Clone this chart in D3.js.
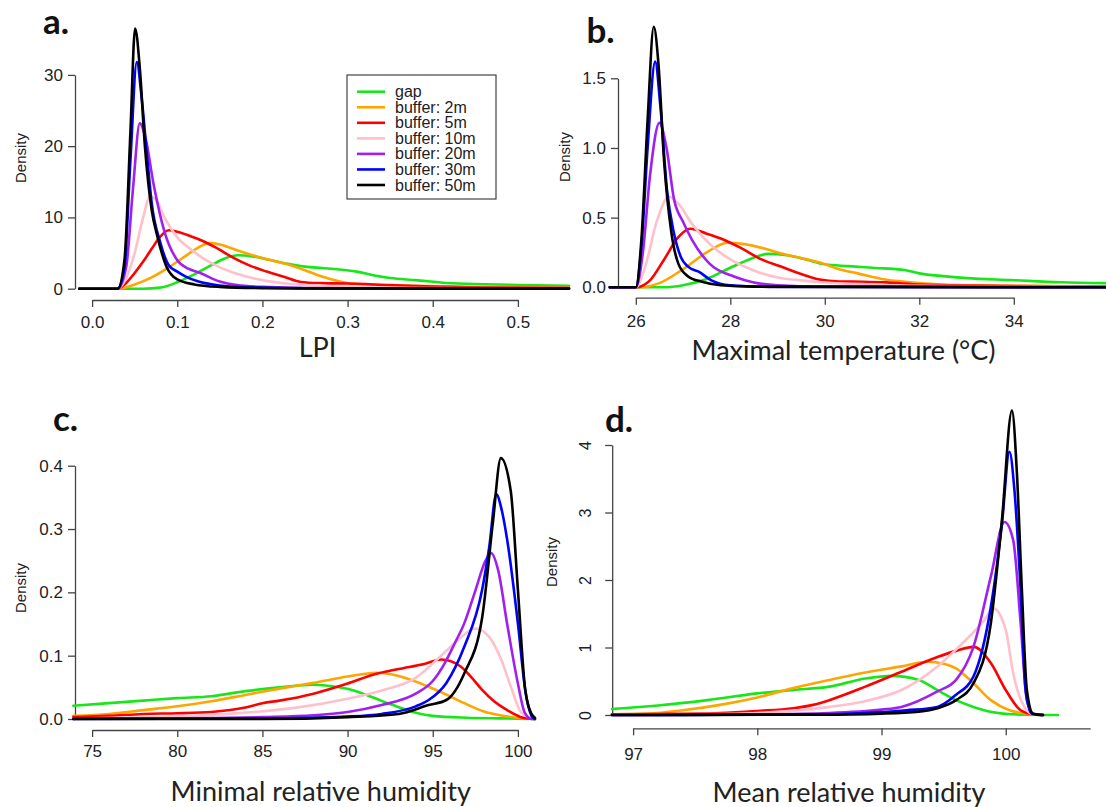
<!DOCTYPE html>
<html><head><meta charset="utf-8">
<script src="https://cdn.jsdelivr.net/npm/d3@7"></script>
<style>html,body{margin:0;padding:0;background:#fff;}svg{display:block;}</style>
</head><body>
<svg id="chart" width="1106" height="807"></svg>
<script>
// ---------- DATA ----------
const seriesNames = ["gap","buffer: 2m","buffer: 5m","buffer: 10m","buffer: 20m","buffer: 30m","buffer: 50m"];
const seriesColors = ["#19e619","#ffa500","#ff0000","#ffc0cb","#a020f0","#0000ff","#000000"];

// panel a: LPI
const lpiXTicks = [0,0.1,0.2,0.3,0.4,0.5];
const lpiYTicks = [0,10,20,30];
const lpiGap = [[-0.015,0],[0.06,0],[0.08,0.15],[0.1,0.9],[0.12,2.0],[0.14,3.3],[0.155,4.2],[0.171,4.7],[0.19,4.5],[0.21,4.0],[0.23,3.5],[0.25,3.1],[0.27,2.9],[0.29,2.7],[0.311,2.4],[0.33,1.9],[0.35,1.5],[0.38,1.2],[0.416,0.8],[0.46,0.62],[0.5,0.52],[0.56,0.42]];
const lpiB2 = [[-0.015,0],[0.03,0],[0.05,0.6],[0.07,1.6],[0.09,3.0],[0.11,4.6],[0.125,5.8],[0.138,6.4],[0.15,6.2],[0.17,5.4],[0.2,4.3],[0.227,3.5],[0.25,2.6],[0.27,1.7],[0.3,0.8],[0.33,0.55],[0.37,0.42],[0.42,0.33],[0.5,0.2],[0.56,0.15]];
const lpiB5 = [[-0.015,0],[0.03,0],[0.04,0.8],[0.05,2.2],[0.06,3.8],[0.07,5.6],[0.08,7.3],[0.09,8.2],[0.1,8.0],[0.115,7.4],[0.13,6.7],[0.145,5.8],[0.165,4.4],[0.186,3.2],[0.205,2.4],[0.227,1.6],[0.245,0.95],[0.27,0.78],[0.3,0.72],[0.35,0.5],[0.4,0.3],[0.5,0.12],[0.56,0.08]];
const lpiB10 = [[-0.015,0],[0.03,0],[0.04,1.5],[0.05,5],[0.06,10],[0.068,12.9],[0.075,12.5],[0.085,10],[0.1,7.2],[0.115,5.6],[0.13,4.3],[0.15,3.0],[0.17,2.1],[0.2,1.2],[0.23,0.7],[0.27,0.4],[0.32,0.2],[0.4,0.1],[0.56,0.05]];
const lpiB20 = [[-0.015,0],[0.03,0],[0.04,3],[0.048,14],[0.056,23.2],[0.063,21],[0.072,14.8],[0.0855,7.8],[0.1,4.0],[0.113,2.8],[0.127,2.2],[0.15,1.0],[0.17,0.5],[0.2,0.25],[0.25,0.1],[0.3,0.05],[0.56,0.01]];
const lpiB30 = [[-0.015,0],[0.03,0],[0.038,3],[0.045,18],[0.0525,31.8],[0.058,27],[0.065,18],[0.07,12],[0.08,6.5],[0.09,3.3],[0.1,2.4],[0.11,1.7],[0.125,1.0],[0.15,0.45],[0.18,0.2],[0.25,0.05],[0.56,0.01]];
const lpiB50 = [[-0.015,0],[0.03,0],[0.038,4],[0.045,22],[0.0505,36.5],[0.056,31],[0.062,20],[0.07,11],[0.0763,7.5],[0.087,3.2],[0.1,1.3],[0.12,0.6],[0.15,0.25],[0.2,0.08],[0.3,0.02],[0.56,0.01]];

// panel b: maximal temperature
const tmaxXTicks = [26,28,30,32,34];
const tmaxYTicks = [0,0.5,1,1.5];
const tmaxGap = [[25.45,0],[26.6,0],[27.0,0.015],[27.5,0.06],[28.0,0.14],[28.4,0.2],[28.8,0.24],[29.2,0.23],[29.6,0.2],[30.0,0.165],[30.5,0.152],[31.0,0.14],[31.69,0.124],[32.0,0.1],[32.5,0.08],[33.0,0.066],[33.94,0.052],[35,0.036],[36,0.03]];
const tmaxB2 = [[25.45,0],[26.1,0],[26.5,0.03],[27.0,0.13],[27.5,0.25],[27.94,0.32],[28.3,0.31],[28.7,0.28],[29.06,0.244],[29.5,0.21],[29.96,0.17],[30.3,0.13],[30.7,0.1],[31.2,0.06],[31.7,0.04],[32.5,0.02],[34,0.01],[36,0.005]];
const tmaxB5 = [[25.45,0],[26.0,0],[26.3,0.05],[26.6,0.2],[26.9,0.36],[27.15,0.42],[27.5,0.385],[27.8,0.35],[28.0,0.32],[28.24,0.28],[28.6,0.21],[29.14,0.14],[29.5,0.095],[29.89,0.055],[30.3,0.042],[30.8,0.04],[31.3,0.035],[32,0.02],[33,0.012],[36,0.005]];
const tmaxB10 = [[25.45,0],[26.0,0],[26.2,0.15],[26.45,0.48],[26.7,0.65],[26.9,0.6],[27.2,0.45],[27.6,0.3],[28,0.2],[28.5,0.12],[29,0.07],[29.5,0.05],[30,0.035],[31,0.02],[32,0.01],[36,0.002]];
const tmaxB20 = [[25.45,0],[26.0,0],[26.15,0.25],[26.3,0.8],[26.5,1.18],[26.65,1.0],[26.81,0.63],[27.0,0.47],[27.19,0.34],[27.56,0.17],[28.09,0.076],[28.5,0.035],[29,0.015],[30,0.005],[36,0]];
const tmaxB30 = [[25.45,0],[26.0,0],[26.12,0.3],[26.25,1.0],[26.41,1.62],[26.52,1.3],[26.66,0.7],[26.8,0.4],[26.95,0.22],[27.1,0.15],[27.34,0.11],[27.6,0.05],[28,0.015],[29,0.003],[36,0]];
const tmaxB50 = [[25.45,0],[26.0,0],[26.12,0.35],[26.25,1.2],[26.38,1.87],[26.48,1.6],[26.6,0.9],[26.75,0.4],[26.9,0.17],[27.1,0.08],[27.4,0.04],[27.8,0.015],[28.5,0.005],[36,0]];

// panel c: minimal relative humidity
const rhMinXTicks = [75,80,85,90,95,100];
const rhMinYTicks = [0,0.1,0.2,0.3,0.4];
const rhMinGap = [[73.9,0.021],[76,0.025],[78,0.029],[80,0.033],[82,0.036],[84,0.044],[86,0.05],[88,0.054],[89.5,0.05],[90.5,0.044],[91.5,0.034],[92.66,0.022],[94,0.01],[95,0.005],[97,0.002],[99,0.001],[101,0]];
const rhMinB2 = [[73.9,0.005],[76,0.008],[78,0.014],[80,0.02],[82,0.028],[84,0.038],[86,0.048],[88,0.057],[90,0.067],[91.7,0.073],[93,0.068],[94.76,0.051],[96,0.036],[96.85,0.025],[98,0.012],[98.95,0.006],[100,0.002],[101,0]];
const rhMinB5 = [[73.9,0.003],[76,0.005],[78,0.008],[80,0.009],[82,0.011],[84,0.018],[85,0.025],[86,0.029],[88,0.04],[90,0.056],[91.5,0.07],[93,0.079],[94.5,0.087],[95.5,0.094],[96.64,0.083],[97.3,0.065],[97.9,0.046],[98.6,0.028],[99.37,0.014],[100.3,0.002],[101,0]];
const rhMinB10 = [[73.9,0.001],[80,0.004],[84,0.01],[87,0.018],[90,0.032],[92,0.045],[94,0.065],[95.5,0.1],[96.5,0.125],[97.5,0.143],[98.3,0.13],[99,0.095],[99.6,0.05],[100.2,0.01],[101,0]];
const rhMinB20 = [[73.9,0.001],[80,0.001],[85,0.003],[88,0.006],[90,0.011],[92,0.022],[94,0.04],[95,0.06],[95.7,0.088],[96.3,0.12],[96.85,0.151],[97.47,0.2],[98.1,0.25],[98.43,0.262],[98.84,0.235],[99.37,0.15],[100,0.056],[100.4,0.01],[100.8,0],[101,0]];
const rhMinB30 = [[73.9,0],[85,0.001],[90,0.004],[92,0.008],[94,0.02],[94.76,0.03],[95.8,0.057],[96.85,0.114],[97.9,0.204],[98.32,0.272],[98.73,0.355],[99.05,0.33],[99.37,0.283],[100,0.151],[100.43,0.046],[100.8,0.005],[101,0]];
const rhMinB50 = [[73.9,0],[85,0],[90,0.003],[93,0.008],[94.76,0.022],[95.8,0.03],[96.85,0.072],[97.9,0.16],[98.53,0.31],[99.0,0.412],[99.58,0.36],[100,0.204],[100.43,0.046],[100.8,0.008],[101,0.002]];

// panel d: mean relative humidity
const rhMeanXTicks = [97,98,99,100];
const rhMeanYTicks = [0,1,2,3,4];
const rhMeanGap = [[96.83,0.09],[97.2,0.14],[97.6,0.22],[98,0.32],[98.29,0.37],[98.58,0.42],[98.87,0.54],[99.08,0.58],[99.3,0.52],[99.45,0.37],[99.6,0.22],[99.74,0.12],[99.9,0.04],[100.05,0.01],[100.42,0]];
const rhMeanB2 = [[96.83,0.01],[97.12,0.02],[97.4,0.07],[97.7,0.15],[98,0.26],[98.29,0.4],[98.58,0.52],[98.87,0.63],[99.16,0.72],[99.37,0.79],[99.5,0.76],[99.6,0.69],[99.74,0.47],[99.88,0.22],[100.03,0.07],[100.17,0.02],[100.3,0]];
const rhMeanB5 = [[96.83,0.01],[97.2,0.015],[97.7,0.03],[98,0.06],[98.29,0.1],[98.45,0.15],[98.58,0.22],[98.87,0.42],[99.16,0.64],[99.45,0.86],[99.6,0.95],[99.74,1.01],[99.88,0.77],[100,0.37],[100.12,0.07],[100.22,0.01],[100.3,0]];
const rhMeanB10 = [[96.83,0],[97.5,0.01],[98,0.03],[98.58,0.12],[98.9,0.22],[99.16,0.37],[99.45,0.72],[99.65,1.06],[99.83,1.41],[99.9,1.58],[100,1.26],[100.06,0.62],[100.15,0.12],[100.22,0.01],[100.3,0]];
const rhMeanB20 = [[96.83,0],[98,0.01],[98.58,0.03],[99,0.08],[99.16,0.12],[99.45,0.35],[99.6,0.52],[99.74,1.01],[99.88,2.05],[99.99,2.86],[100.06,2.59],[100.12,1.36],[100.17,0.22],[100.22,0.02],[100.3,0]];
const rhMeanB30 = [[96.83,0],[98.5,0.01],[98.87,0.03],[99.2,0.07],[99.45,0.12],[99.6,0.3],[99.74,0.57],[99.88,1.6],[99.97,2.84],[100.03,3.9],[100.07,3.33],[100.12,1.85],[100.16,0.37],[100.21,0.02],[100.3,0]];
const rhMeanB50 = [[96.83,0],[98.5,0.005],[99,0.02],[99.3,0.05],[99.45,0.1],[99.6,0.22],[99.74,0.47],[99.88,1.36],[99.97,2.9],[100.05,4.51],[100.09,3.58],[100.13,1.85],[100.17,0.37],[100.22,0.02],[100.3,0]];

const panelLetters = ["a.","b.","c.","d."];
const axisTitles = ["LPI","Maximal temperature (\u00B0C)","Minimal relative humidity","Mean relative humidity"];
const yTitle = "Density";

// ---------- LAYOUT ----------
const svg = d3.select("#chart");
const TICKFONT = "'Liberation Sans', Arial, sans-serif";
const TITLEFONT = "Lato, 'Open Sans', sans-serif";
const AXIS_COLOR = "#444";

const panels = [
  {series:[lpiGap,lpiB2,lpiB5,lpiB10,lpiB20,lpiB30,lpiB50], xDom:[0,0.5], xRng:[92.1,517.9], yDom:[0,30], yRng:[288.7,74.9],
   xTicks:lpiXTicks, yTicks:lpiYTicks, xFmt:d3.format(".1f"), yFmt:d3.format("d"), xAxisY:300, yAxisX:75,
   letter:[43,34], title:[317.5,356.7], dens:[21,158], rotY:false, xPad:9},
  {series:[tmaxGap,tmaxB2,tmaxB5,tmaxB10,tmaxB20,tmaxB30,tmaxB50], xDom:[26,34], xRng:[635.8,1013.8], yDom:[0,1.5], yRng:[287.3,78.3],
   xTicks:tmaxXTicks, yTicks:tmaxYTicks, xFmt:d3.format("d"), yFmt:d3.format(".1f"), xAxisY:297.7, yAxisX:618,
   letter:[586.5,43.3], title:[843.5,360], dens:[565,157], rotY:false, xPad:10},
  {series:[rhMinGap,rhMinB2,rhMinB5,rhMinB10,rhMinB20,rhMinB30,rhMinB50], xDom:[75,100], xRng:[92.1,517.9], yDom:[0,0.4], yRng:[719,465.7],
   xTicks:rhMinXTicks, yTicks:rhMinYTicks, xFmt:d3.format("d"), yFmt:d3.format(".1f"), xAxisY:730, yAxisX:75,
   letter:[53,431], title:[320.7,800.7], dens:[21,588], rotY:false, xPad:8},
  {series:[rhMeanGap,rhMeanB2,rhMeanB5,rhMeanB10,rhMeanB20,rhMeanB30,rhMeanB50], xDom:[97,100.68], xRng:[633.1,1090.2], yDom:[0,4], yRng:[715,445],
   xTicks:rhMeanXTicks, yTicks:rhMeanYTicks, xFmt:d3.format("d"), yFmt:d3.format("d"), xAxisY:728.3, yAxisX:612.2,
   letter:[605,431.7], title:[849,801.7], dens:[552,562], rotY:true, xPad:13}
];

panels.forEach((p, i) => {
  const x = d3.scaleLinear().domain(p.xDom).range(p.xRng);
  const y = d3.scaleLinear().domain(p.yDom).range(p.yRng);
  const g = svg.append("g");

  // x axis
  const xa = g.append("g").attr("transform", `translate(0,${p.xAxisY})`)
    .call(d3.axisBottom(x).tickValues(p.xTicks).tickFormat(p.xFmt).tickSize(7).tickSizeOuter(0).tickPadding(p.xPad));
  xa.select(".domain").attr("stroke", AXIS_COLOR).attr("stroke-width", 1.3);
  xa.selectAll(".tick line").attr("stroke", AXIS_COLOR).attr("stroke-width", 1.3);
  xa.selectAll(".tick text").attr("fill", "#222").style("font-family", TICKFONT).style("font-size", "17px");

  // y axis
  const ya = g.append("g").attr("transform", `translate(${p.yAxisX},0)`)
    .call(d3.axisLeft(y).tickValues(p.yTicks).tickFormat(p.yFmt).tickSize(7).tickSizeOuter(0).tickPadding(5));
  ya.select(".domain").attr("stroke", AXIS_COLOR).attr("stroke-width", 1.3);
  ya.selectAll(".tick line").attr("stroke", AXIS_COLOR).attr("stroke-width", 1.3);
  const yt = ya.selectAll(".tick text").attr("fill", "#222").style("font-family", TICKFONT).style("font-size", "17px");
  if (p.rotY) {
    yt.attr("x", null).attr("dy", null).attr("text-anchor", "middle")
      .attr("transform", "translate(-21,0) rotate(-90)")
      .style("font-size", "16px");
  }

  // density curves
  const line = d3.line().x(d => x(d[0])).y(d => y(d[1])).curve(d3.curveMonotoneX);
  p.series.forEach((s, k) => {
    g.append("path").datum(s).attr("d", line)
      .attr("fill", "none").attr("stroke", seriesColors[k]).attr("stroke-width", 2.6)
      .attr("stroke-linejoin", "round").attr("stroke-linecap", "round");
  });

  // labels
  g.append("text").attr("x", p.letter[0]).attr("y", p.letter[1]).text(panelLetters[i])
    .style("font-family", TITLEFONT).style("font-weight", "bold").style("font-size", "35px").attr("fill", "#111");
  g.append("text").attr("x", p.title[0]).attr("y", p.title[1]).attr("text-anchor", "middle").text(axisTitles[i])
    .style("font-family", TITLEFONT).style("font-size", "27px").attr("fill", "#222");
  g.append("text").attr("transform", `translate(${p.dens[0]},${p.dens[1]}) rotate(-90)`).attr("text-anchor", "middle")
    .attr("dy", "0.35em").text(yTitle)
    .style("font-family", TICKFONT).style("font-size", "15px").attr("fill", "#222");
});

// legend (panel a)
const lg = svg.append("g");
lg.append("rect").attr("x", 347).attr("y", 75).attr("width", 149).attr("height", 124)
  .attr("fill", "#fff").attr("stroke", AXIS_COLOR).attr("stroke-width", 1.2);
const legY = d3.scaleLinear().domain([0, seriesNames.length - 1]).range([91.7, 185]);
seriesNames.forEach((n, k) => {
  lg.append("line").attr("x1", 357).attr("x2", 385).attr("y1", legY(k)).attr("y2", legY(k))
    .attr("stroke", seriesColors[k]).attr("stroke-width", 2.6);
  lg.append("text").attr("x", 395).attr("y", legY(k) + 5.5).text(n)
    .style("font-family", TICKFONT).style("font-size", "16px").attr("fill", "#222");
});
</script>
</body></html>
